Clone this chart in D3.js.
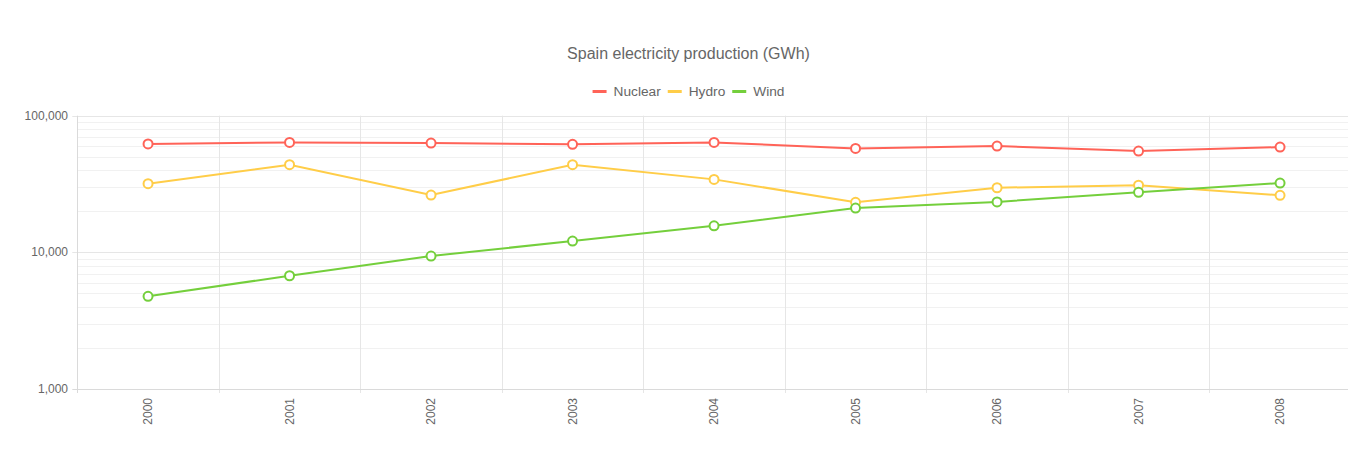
<!DOCTYPE html>
<html>
<head>
<meta charset="utf-8">
<script src="https://cdn.jsdelivr.net/npm/d3@7"></script>
<style>
  html, body { margin: 0; padding: 0; background: #fff; }
  svg { display: block; font-family: "Liberation Sans", Arial, Helvetica, sans-serif; }
</style>
</head>
<body>
<svg id="chart" width="1348" height="456"></svg>
<script>
const years = ["2000", "2001", "2002", "2003", "2004", "2005", "2006", "2007", "2008"];
const nuclear = [62200, 63700, 63000, 61700, 63700, 57600, 60000, 55100, 58900];
const hydro = [31800, 43800, 26250, 43800, 34200, 23250, 29700, 31000, 26150];
const wind = [4770, 6740, 9400, 12100, 15650, 21100, 23400, 27500, 32150];
const seriesNames = ["Nuclear", "Hydro", "Wind"];
const seriesColors = ["#ff6358", "#ffcd48", "#74cf3c"];
const yMajorTicks = [1000, 10000, 100000];
const titleText = "Spain electricity production (GWh)";

(function () {
const series = [nuclear, hydro, wind];
const svg = d3.select("#chart");

const plotLeft = 77.3, plotTop = 115.7, plotBottom = 389, bandW = 141.5;
const x = d3.scaleBand().domain(years).range([plotLeft, plotLeft + bandW * years.length]);
const y = d3.scaleLog().domain([1000, 100000]).range([plotBottom, plotTop]);

// minor gridlines
const minorTicks = [];
for (let d = 1000; d < 100000; d *= 10) {
  for (let m = 2; m <= 9; m++) minorTicks.push(d * m);
}
svg.append("g").selectAll("line").data(minorTicks).join("line")
  .attr("x1", plotLeft).attr("x2", 1348)
  .attr("y1", d => Math.round(y(d)) + 0.5).attr("y2", d => Math.round(y(d)) + 0.5)
  .attr("stroke", "#f1f1f1").attr("stroke-width", 1);

// vertical gridlines at band edges
const edges = years.map(d => x(d)).concat([x(years[years.length - 1]) + x.bandwidth()]);
svg.append("g").selectAll("line").data(edges.slice(1)).join("line")
  .attr("x1", d => Math.round(d) + 0.5).attr("x2", d => Math.round(d) + 0.5)
  .attr("y1", plotTop).attr("y2", plotBottom + 4)
  .attr("stroke", "#e6e6e6").attr("stroke-width", 1);

// major gridlines
svg.append("g").selectAll("line").data(yMajorTicks).join("line")
  .attr("x1", plotLeft - 5).attr("x2", 1348)
  .attr("y1", d => Math.round(y(d)) + 0.5).attr("y2", d => Math.round(y(d)) + 0.5)
  .attr("stroke", d => d === 1000 ? "#dadada" : "#e6e6e6").attr("stroke-width", 1);

// left axis line
svg.append("line")
  .attr("x1", Math.round(plotLeft) + 0.5).attr("x2", Math.round(plotLeft) + 0.5)
  .attr("y1", plotTop).attr("y2", plotBottom + 4)
  .attr("stroke", "#dadada");

// y labels
const fmt = d3.format(",");
svg.append("g").selectAll("text").data(yMajorTicks).join("text")
  .attr("x", 68).attr("y", d => y(d) + 4)
  .attr("text-anchor", "end").attr("font-size", 12).attr("fill", "#666")
  .text(d => fmt(d));

// x labels
svg.append("g").selectAll("text").data(years).join("text")
  .attr("transform", d => `translate(${x(d) + x.bandwidth() / 2 + 4},398) rotate(-90)`)
  .attr("text-anchor", "end").attr("font-size", 12).attr("fill", "#666")
  .text(d => d);

// lines and points
const line = d3.line().x((d, i) => x(years[i]) + x.bandwidth() / 2).y(d => y(d));
series.forEach((s, k) => {
  svg.append("path").datum(s)
    .attr("d", line).attr("fill", "none")
    .attr("stroke", seriesColors[k]).attr("stroke-width", 2);
});
series.forEach((s, k) => {
  svg.append("g").selectAll("circle").data(s).join("circle")
    .attr("cx", (d, i) => x(years[i]) + x.bandwidth() / 2)
    .attr("cy", d => y(d))
    .attr("r", 4.5)
    .attr("fill", "#fff").attr("stroke", seriesColors[k]).attr("stroke-width", 2);
});

// title
svg.append("text").attr("x", 688.5).attr("y", 59)
  .attr("text-anchor", "middle").attr("font-size", 16).attr("fill", "#666")
  .text(titleText);

// legend
const lg = svg.append("g");
let cursor = 0;
seriesNames.forEach((n, k) => {
  const g = lg.append("g");
  g.append("line").attr("x1", 0).attr("x2", 14).attr("y1", 91.5).attr("y2", 91.5)
    .attr("stroke", seriesColors[k]).attr("stroke-width", 3);
  const t = g.append("text").attr("x", 21).attr("y", 96.3)
    .attr("font-size", 13.7).attr("fill", "#666").text(n);
  const w = 21 + t.node().getComputedTextLength();
  g.attr("transform", `translate(${cursor},0)`);
  cursor += w + 7;
});
const totalW = cursor - 7;
lg.attr("transform", `translate(${688.5 - totalW / 2},0)`);
})();
</script>
</body>
</html>
